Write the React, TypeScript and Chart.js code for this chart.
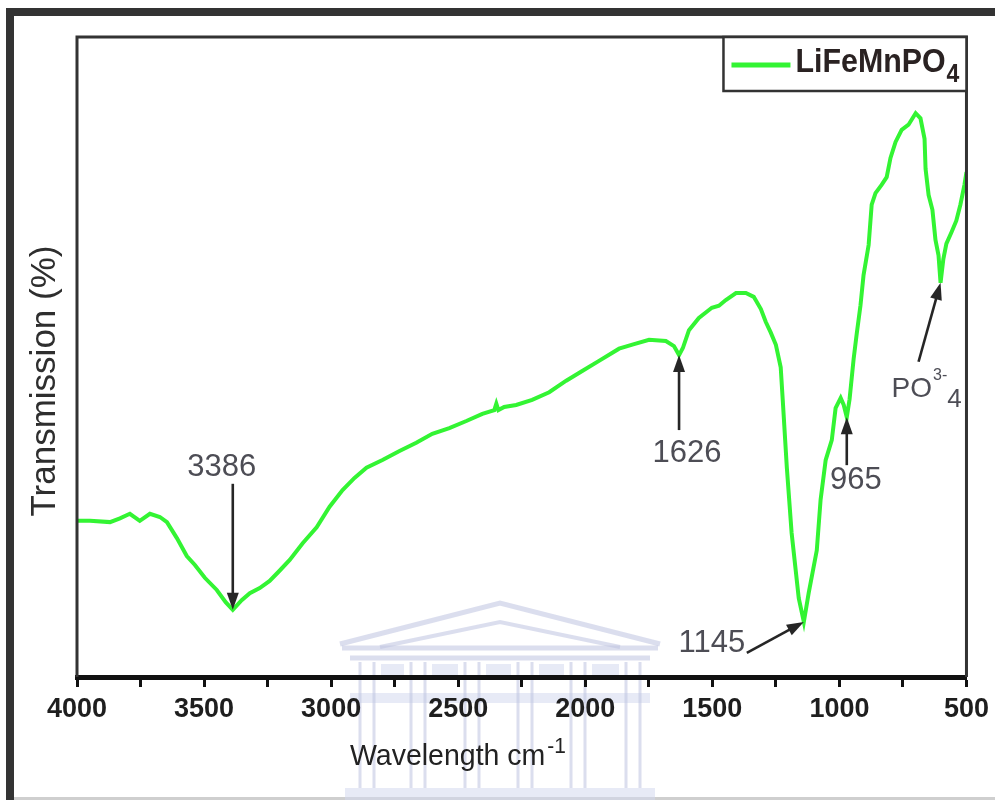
import React, { useEffect, useRef } from 'react';
import { Chart, registerables } from 'chart.js';

Chart.register(...registerables);

// ---- data ----
const wavenumber: number[] = [
  4000, 3949, 3870, 3831, 3792, 3753, 3713, 3674, 3646, 3607,
  3568, 3536, 3497, 3450, 3415, 3387, 3352, 3320, 3281, 3242,
  3203, 3163, 3112, 3057, 3006, 2955, 2908, 2861, 2798, 2731,
  2665, 2602, 2535, 2468, 2405, 2358, 2350, 2342, 2319, 2272,
  2209, 2142, 2075, 2012, 1946, 1867, 1808, 1749, 1683, 1651,
  1631, 1616, 1592, 1553, 1502, 1474, 1447, 1407, 1368, 1337,
  1309, 1290, 1270, 1250, 1231, 1223, 1207, 1188, 1160, 1140,
  1121, 1089, 1074, 1054, 1030, 1015, 995, 983, 971, 960,
  944, 932, 917, 905, 885, 873, 858, 834, 814, 799,
  779, 755, 728, 700, 681, 665, 661, 649, 634, 622,
  610, 602, 591, 579, 559, 540, 524, 508, 500,
];
const transmission: number[] = [
  24.4, 24.4, 24.2, 24.8, 25.5, 24.4, 25.5, 25.0, 24.2, 21.7,
  18.9, 17.5, 15.5, 13.6, 11.7, 10.5, 12.0, 13.1, 13.9, 15.0,
  16.6, 18.3, 20.9, 23.4, 26.6, 29.2, 31.1, 32.7, 33.9, 35.3,
  36.6, 38.0, 38.9, 40.0, 41.1, 41.7, 42.7, 41.7, 42.2, 42.5,
  43.3, 44.5, 46.3, 47.8, 49.4, 51.3, 52.0, 52.7, 52.5, 51.7,
  50.3, 51.4, 54.2, 56.1, 57.7, 58.0, 58.9, 60.0, 60.0, 59.4,
  57.5, 55.5, 53.8, 51.9, 48.4, 43.3, 32.8, 22.5, 12.3, 8.6,
  13.1, 19.8, 27.7, 33.9, 37.0, 42.0, 43.6, 42.5, 40.6, 43.4,
  49.7, 53.6, 58.1, 62.8, 67.5, 73.8, 75.6, 76.9, 78.1, 81.1,
  83.6, 85.5, 86.3, 88.1, 87.3, 84.1, 79.4, 75.3, 73.0, 68.3,
  65.9, 61.6, 65.3, 67.7, 69.5, 71.3, 73.8, 76.9, 78.9,
];

const seriesName = 'LiFeMnPO';
const seriesSub = '4';
const xMin = 500;
const xMax = 4000;
const xMajorStep = 500;
const xMinorStep = 250;
const xTitle = 'Wavelength cm';
const xTitleSup = '-1';
const yTitle = 'Transmission (%)';

// peak annotations: label and index of the data point the arrow tip touches
const peakLabels = ['3386', '1626', '1145', '965'];
const peakIndex = [15, 50, 69, 78];
const ionIndex = 101;

const FONT = "'Liberation Sans', Arial, sans-serif";
const GREEN = '#33f433';

// layout offsets of arrow tail / label relative to arrow tip (style, not data)
const peakLayout = [
  { tail: [0, -126], text: [-11, -142] },
  { tail: [0, 75], text: [8, 98] },
  { tail: [-57, 31], text: [-92, 21] },
  { tail: [0, 48], text: [9, 63] },
];

function drawArrow(ctx: CanvasRenderingContext2D, sx: number, sy: number, tx: number, ty: number) {
  const ang = Math.atan2(ty - sy, tx - sx);
  const len = 17;
  const hw = 6;
  const c = Math.cos(ang);
  const s = Math.sin(ang);
  ctx.save();
  ctx.strokeStyle = '#262626';
  ctx.fillStyle = '#262626';
  ctx.lineWidth = 2.6;
  ctx.beginPath();
  ctx.moveTo(sx, sy);
  ctx.lineTo(tx - c * len * 0.8, ty - s * len * 0.8);
  ctx.stroke();
  ctx.beginPath();
  ctx.moveTo(tx, ty);
  ctx.lineTo(tx - c * len - s * hw, ty - s * len + c * hw);
  ctx.lineTo(tx - c * len + s * hw, ty - s * len - c * hw);
  ctx.closePath();
  ctx.fill();
  ctx.restore();
}

const decorPlugin = {
  id: 'decor',
  beforeDraw(chart: any) {
    const ctx: CanvasRenderingContext2D = chart.ctx;
    ctx.save();
    ctx.fillStyle = '#ffffff';
    ctx.fillRect(0, 0, chart.width, chart.height);
    // outer frame
    ctx.fillStyle = '#333333';
    ctx.fillRect(6, 8, chart.width - 6, 8);
    ctx.fillRect(6, 8, 8, chart.height - 8);
    ctx.fillStyle = '#cfcfcf';
    ctx.fillRect(14, 797, chart.width - 14, 3);

    // faint watermark (building)
    const wm = 'rgba(190,195,224,0.55)';
    const wmFill = 'rgba(212,216,238,0.55)';
    ctx.strokeStyle = wm;
    ctx.lineWidth = 5;
    ctx.beginPath();
    ctx.moveTo(340, 644);
    ctx.lineTo(500, 603);
    ctx.lineTo(660, 644);
    ctx.stroke();
    ctx.lineWidth = 4;
    ctx.beginPath();
    ctx.moveTo(380, 647);
    ctx.lineTo(500, 622);
    ctx.lineTo(620, 647);
    ctx.stroke();
    ctx.lineWidth = 5;
    ctx.beginPath();
    ctx.moveTo(342, 648);
    ctx.lineTo(658, 648);
    ctx.moveTo(350, 658);
    ctx.lineTo(650, 658);
    ctx.stroke();
    ctx.fillStyle = wmFill;
    ctx.fillRect(350, 693, 300, 10);
    ctx.fillRect(345, 788, 310, 12);
    const cols = [367, 418, 472, 525, 578, 633];
    ctx.lineWidth = 3;
    cols.forEach((cx, i) => {
      ctx.beginPath();
      ctx.moveTo(cx - 7, 662);
      ctx.lineTo(cx - 7, 788);
      ctx.moveTo(cx + 7, 662);
      ctx.lineTo(cx + 7, 788);
      ctx.stroke();
      if (i < cols.length - 1) {
        ctx.fillRect(cx + 14, 664, cols[i + 1] - cx - 28, 12);
      }
    });
    ctx.restore();
  },
  afterDraw(chart: any) {
    const ctx: CanvasRenderingContext2D = chart.ctx;
    const { left, right, top, bottom } = chart.chartArea;
    const xs = chart.scales.x;
    const ys = chart.scales.y;
    ctx.save();

    // plot box (left, top, right)
    ctx.strokeStyle = '#333333';
    ctx.lineWidth = 3;
    ctx.beginPath();
    ctx.moveTo(left, bottom);
    ctx.lineTo(left, top);
    ctx.lineTo(right, top);
    ctx.lineTo(right, bottom);
    ctx.stroke();

    // legend
    const lx = right - 243;
    ctx.fillStyle = '#ffffff';
    ctx.fillRect(lx, top, right - lx, 54);
    ctx.lineWidth = 2.5;
    ctx.strokeRect(lx, top, right - lx, 54);
    ctx.strokeStyle = GREEN;
    ctx.lineWidth = 5;
    ctx.beginPath();
    ctx.moveTo(lx + 8, top + 28);
    ctx.lineTo(lx + 67, top + 28);
    ctx.stroke();
    ctx.fillStyle = '#2a2222';
    ctx.textBaseline = 'alphabetic';
    ctx.textAlign = 'left';
    ctx.save();
    ctx.translate(lx + 72, top + 35);
    ctx.scale(0.92, 1);
    ctx.font = `bold 33px ${FONT}`;
    ctx.fillText(seriesName, 0, 0);
    const nameW = ctx.measureText(seriesName).width;
    ctx.font = `bold 25px ${FONT}`;
    ctx.fillText(seriesSub, nameW + 1, 10);
    ctx.restore();

    // axis titles
    ctx.fillStyle = '#222222';
    ctx.font = `30px ${FONT}`;
    ctx.textAlign = 'left';
    ctx.save();
    ctx.translate(350, 765);
    ctx.scale(0.95, 1);
    ctx.fillText(xTitle, 0, 0);
    const tW = ctx.measureText(xTitle).width;
    ctx.font = `22px ${FONT}`;
    ctx.fillText(xTitleSup, tW + 2, -12);
    ctx.restore();

    ctx.save();
    ctx.translate(45, (top + bottom) / 2 + 24);
    ctx.rotate(-Math.PI / 2);
    ctx.textAlign = 'center';
    ctx.textBaseline = 'middle';
    ctx.fillStyle = '#2e2e2e';
    ctx.font = `35px ${FONT}`;
    ctx.fillText(yTitle, 0, 0);
    ctx.restore();

    // peak annotations
    ctx.font = `31px ${FONT}`;
    ctx.textAlign = 'center';
    ctx.textBaseline = 'middle';
    peakLabels.forEach((lab, i) => {
      const idx = peakIndex[i];
      const tx = xs.getPixelForValue(wavenumber[idx]);
      const ty = ys.getPixelForValue(transmission[idx]);
      const L = peakLayout[i];
      drawArrow(ctx, tx + L.tail[0], ty + L.tail[1], tx, ty);
      ctx.fillStyle = '#4d4d55';
      ctx.fillText(lab, tx + L.text[0], ty + L.text[1]);
    });

    // phosphate label
    const px = xs.getPixelForValue(wavenumber[ionIndex]);
    const py = ys.getPixelForValue(transmission[ionIndex]);
    drawArrow(ctx, px - 22, py + 79, px, py);
    ctx.textAlign = 'left';
    ctx.textBaseline = 'alphabetic';
    ctx.fillStyle = '#4d4d55';
    ctx.font = `28px ${FONT}`;
    const bx = px - 49;
    const by = py + 114;
    ctx.fillText('PO', bx, by);
    const poW = ctx.measureText('PO').width;
    ctx.font = `16px ${FONT}`;
    ctx.fillText('3-', bx + poW + 1, by - 17);
    const sW = ctx.measureText('3-').width;
    ctx.font = `26px ${FONT}`;
    ctx.fillText('4', bx + poW + sW + 1, by + 10);

    ctx.restore();
  },
};

export default function App() {
  const ref = useRef<HTMLCanvasElement | null>(null);
  useEffect(() => {
    document.body.style.margin = '0';
    if (!ref.current) return;
    const points = wavenumber.map((w, i) => ({ x: w, y: transmission[i] }));
    const chart = new Chart(ref.current, {
      type: 'line',
      data: {
        datasets: [
          {
            label: seriesName + seriesSub,
            data: points,
            borderColor: GREEN,
            backgroundColor: GREEN,
            borderWidth: 4,
            pointRadius: 0,
            tension: 0,
            fill: false,
          },
        ],
      },
      options: {
        responsive: false,
        devicePixelRatio: 1,
        animation: false,
        layout: { padding: { left: 77, right: 27, top: 37, bottom: 0 } },
        plugins: { legend: { display: false }, tooltip: { enabled: false } },
        scales: {
          x: {
            type: 'linear',
            reverse: true,
            min: xMin,
            max: xMax,
            afterFit: (s: any) => {
              s.height = 123;
            },
            ticks: {
              stepSize: xMinorStep,
              autoSkip: false,
              maxRotation: 0,
              padding: 6,
              color: '#1e1e1e',
              font: { family: FONT, size: 27, weight: 'bold' },
              callback: (v: any) => (Number(v) % xMajorStep === 0 ? String(v) : ''),
            },
            grid: {
              drawOnChartArea: false,
              drawTicks: true,
              tickLength: 10,
              tickWidth: 3,
              tickColor: '#111111',
            },
            border: { display: true, color: '#111111', width: 5 },
          },
          y: {
            display: false,
            min: 0,
            max: 100,
          },
        },
      },
      plugins: [decorPlugin],
    });
    return () => chart.destroy();
  }, []);
  return <canvas ref={ref} width={995} height={800} style={{ display: 'block' }} />;
}
